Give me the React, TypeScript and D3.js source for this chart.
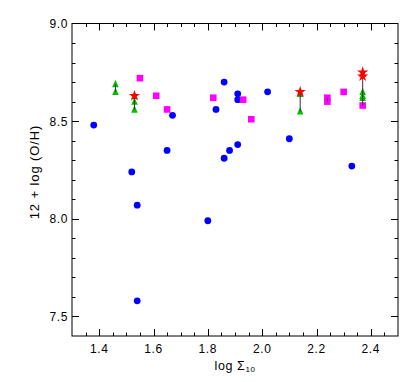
import React from "react";
import { scaleLinear, range, symbol, symbolStar } from "d3";

// log Sigma_10 vs oxygen abundance
const circleX = [1.38, 1.52, 1.54, 1.54, 1.65, 1.67, 1.80, 1.83, 1.86, 1.86, 1.88, 1.91, 1.91, 1.91, 2.02, 2.10, 2.33];
const circleY = [8.48, 8.24, 8.07, 7.58, 8.35, 8.53, 7.99, 8.56, 8.70, 8.31, 8.35, 8.38, 8.64, 8.61, 8.65, 8.41, 8.27];

const squareX = [1.55, 1.61, 1.65, 1.82, 1.93, 1.96, 2.24, 2.24, 2.30, 2.37];
const squareY = [8.72, 8.63, 8.56, 8.62, 8.61, 8.51, 8.62, 8.60, 8.65, 8.58];

const triangleX = [1.46, 1.46, 1.53, 1.53, 1.53, 2.14, 2.14, 2.37, 2.37, 2.37];
const triangleY = [8.69, 8.65, 8.63, 8.60, 8.56, 8.64, 8.55, 8.65, 8.63, 8.62];

const starX = [1.53, 2.14, 2.37, 2.37];
const starY = [8.63, 8.65, 8.75, 8.73];

// vertical segments joining measurements of the same object
const linkX = [1.46, 1.53, 2.14, 2.24, 2.37];
const linkTop = [8.69, 8.63, 8.65, 8.62, 8.75];
const linkBottom = [8.65, 8.56, 8.55, 8.60, 8.58];

const xTicks = [1.4, 1.6, 1.8, 2.0, 2.2, 2.4];
const yTicks = [7.5, 8.0, 8.5, 9.0];

const W = 420;
const H = 382;
const left = 72, right = 398, top = 23.5, bottom = 336;

const font = "'Liberation Sans', Arial, sans-serif";

export default function App() {
  const x = scaleLinear().domain([1.3, 2.5]).range([left, right]);
  const y = scaleLinear().domain([7.4, 9.0]).range([bottom, top]);

  const xMinor = range(26).map(i => 1.3 + i * 0.05).filter(v => v > 1.301 && v < 2.499);
  const yMinor = range(17).map(i => 7.4 + i * 0.1).filter(v => v > 7.401 && v < 8.999);
  const isMajorX = (v: number) => xTicks.some(t => Math.abs(t - v) < 1e-6);
  const isMajorY = (v: number) => yTicks.some(t => Math.abs(t - v) < 1e-6);

  const star = symbol().type(symbolStar).size(40)();
  const tri = "M0,-4.2L3.3,3.2L-3.3,3.2Z";

  return (
    <svg width={W} height={H} style={{ position: "absolute", left: 0, top: 0 }}>
      <rect x={0} y={0} width={W} height={H} fill="#fff" />

      {/* ticks, all pointing inward */}
      <g stroke="#000" strokeWidth={1}>
        {xMinor.map((v, i) => {
          const len = isMajorX(v) ? 7 : 3.5;
          const px = Math.round(x(v)) + 0.5;
          return (
            <g key={"xt" + i}>
              <line x1={px} x2={px} y1={bottom} y2={bottom - len} />
              <line x1={px} x2={px} y1={top} y2={top + len} />
            </g>
          );
        })}
        {yMinor.map((v, i) => {
          const len = isMajorY(v) ? 7 : 3.5;
          const py = Math.round(y(v)) + 0.5;
          return (
            <g key={"yt" + i}>
              <line x1={left} x2={left + len} y1={py} y2={py} />
              <line x1={right} x2={right - len} y1={py} y2={py} />
            </g>
          );
        })}
      </g>
      <rect x={left} y={top} width={right - left} height={bottom - top} fill="none" stroke="#000" strokeWidth={1} />

      <g fontFamily={font} fontSize={12} letterSpacing={0.6} fill="#000">
        {xTicks.map(t => (
          <text key={"xl" + t} x={x(t)} y={bottom + 17} textAnchor="middle">{t.toFixed(1)}</text>
        ))}
        {yTicks.map(t => (
          <text key={"yl" + t} x={left - 4} y={y(t) + 4.5} textAnchor="end">{t.toFixed(1)}</text>
        ))}
      </g>

      <text
        transform={`translate(39,172) rotate(-90)`}
        textAnchor="middle"
        fontFamily={font}
        fontSize={13}
        letterSpacing={0.9}
      >
        12 + log (O/H)
      </text>
      <text x={(left + right) / 2} y={370} textAnchor="middle" fontFamily={font} fontSize={12.5} letterSpacing={0.6}>
        log  Σ<tspan fontSize={8} dy={2}>10</tspan>
      </text>

      {circleX.map((v, i) => (
        <circle key={"c" + i} cx={x(v)} cy={y(circleY[i])} r={3.4} fill="#0000ff" />
      ))}
      {squareX.map((v, i) => (
        <rect key={"s" + i} x={x(v) - 3.3} y={y(squareY[i]) - 3.3} width={6.6} height={6.6} fill="#ff00ff" />
      ))}
      {triangleX.map((v, i) => (
        <path key={"t" + i} d={tri} transform={`translate(${x(v)},${y(triangleY[i])})`} fill="#00c000" />
      ))}
      {linkX.map((v, i) => (
        <line key={"l" + i} x1={x(v)} x2={x(v)} y1={y(linkTop[i])} y2={y(linkBottom[i])} stroke="#333" strokeWidth={1} />
      ))}
      {starX.map((v, i) => (
        <path key={"st" + i} d={star} transform={`translate(${x(v)},${y(starY[i])})`} fill="#ff0000" />
      ))}
    </svg>
  );
}
